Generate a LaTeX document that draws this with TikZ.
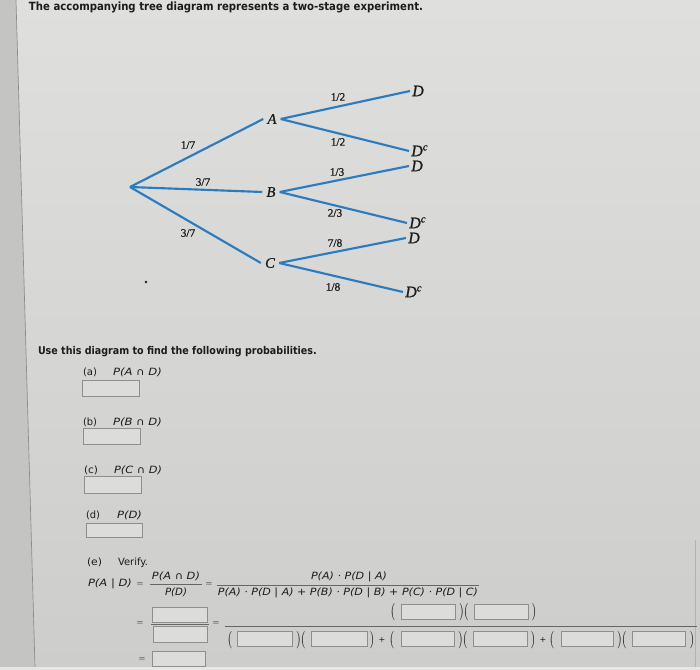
\documentclass[tikz,border=0pt]{standalone}
\usepackage{fontspec}
\setmainfont{DejaVu Sans}
\newfontfamily\treefont[FakeBold=0.8]{Liberation Serif}
\usepackage{graphicx}
\definecolor{treeblue}{HTML}{2C7BBE}
\definecolor{bgtop}{HTML}{DFDFDD}
\definecolor{bgbot}{HTML}{CDCDCB}
\definecolor{stripc}{HTML}{C4C4C2}
\definecolor{boxline}{HTML}{8E8E8E}
\definecolor{boxfill}{HTML}{DCDCDA}
\definecolor{ink}{HTML}{1C1C1C}
\definecolor{eqgray}{HTML}{666666}
\definecolor{bandc}{HTML}{E6E6E4}
\newcommand\fw[2]{\resizebox{#1}{\height}{#2}}
\newcommand\tallp[1]{\scalebox{1}[1.45]{\fontsize{9.5}{9.5}\selectfont$#1$}}
\newcommand\dc{D\rlap{\smash{\textsuperscript{c}}}}
\begin{document}
\begin{tikzpicture}[x=0.75pt,y=-0.75pt,
  txt/.style={inner sep=0pt,outer sep=0pt,text=ink,anchor=base west,font=\fontsize{7.5}{9}\selectfont},
  ital/.style={txt,font=\itshape\fontsize{7.5}{9}\selectfont},
  citl/.style={ital,anchor=base},
  bold/.style={txt,font=\bfseries\fontsize{8.5}{10}\selectfont},
  eqs/.style={inner sep=0pt,anchor=base,text=eqgray,font=\fontsize{6.5}{8}\selectfont},
  plus/.style={inner sep=0pt,anchor=center,text=ink,font=\fontsize{6}{7}\selectfont},
  par/.style={inner sep=0pt,anchor=center,text=ink},
  ansbox/.style={draw=boxline,fill=boxfill,line width=0.7pt,inner sep=0pt,minimum width=41.25pt,minimum height=11.25pt},
  barline/.style={draw=black!60,line width=0.7pt},
  branch/.style={draw=treeblue,line width=1.6pt},
  mid/.style={inner xsep=3pt,inner ysep=0pt,text=ink,font=\treefont\itshape\fontsize{11}{11}\selectfont},
  leaf/.style={anchor=west,inner xsep=1.5pt,inner ysep=0pt,text=ink,font=\treefont\itshape\fontsize{12}{12}\selectfont},
  frac/.style={inner sep=0pt,text=ink,font=\treefont\fontsize{8.5}{8.5}\selectfont}]
\useasboundingbox (0,0) rectangle (700,670);
% background
\shade[top color=bgtop,bottom color=bgbot] (0,0) rectangle (700,670);
\fill[stripc] (0,0) -- (16,0) -- (35,667) -- (0,667) -- cycle;
\draw[black!45,line width=0.5pt] (16,0) -- (35,667);
\draw[black!30,line width=0.5pt] (695,540) -- (695,667);
\fill[bandc] (0,667) rectangle (700,670);

% title
\node[bold] (title) at (29,11) {\fw{295.5pt}{The accompanying tree diagram represents a two-stage experiment.}};

% tree
\coordinate (R) at (130,187);
\node[mid] (A) at (272,119) {A};
\node[mid] (B) at (271,192) {B};
\node[mid] (C) at (270,263) {C};
\node[leaf] (D1) at (410,91) {D};
\node[leaf] (D2) at (409,151) {\dc};
\node[leaf] (D3) at (409,166) {D};
\node[leaf] (D4) at (407,223) {\dc};
\node[leaf] (D5) at (406,238) {D};
\node[leaf] (D6) at (403,292) {\dc};
\draw[branch] (R) -- (A.west);
\draw[branch] (R) -- (B.west);
\draw[branch] (R) -- (C.west);
\draw[branch] (A.east) -- (D1.west);
\draw[branch] (A.east) -- (D2.west);
\draw[branch] (B.east) -- (D3.west);
\draw[branch] (B.east) -- (D4.west);
\draw[branch] (C.east) -- (D5.west);
\draw[branch] (C.east) -- (D6.west);
\node[frac] (f1) at (188,145) {1/7};
\node[frac] (f2) at (203,182) {3/7};
\node[frac] (f3) at (188,233) {3/7};
\node[frac] (f4) at (338,97) {1/2};
\node[frac] (f5) at (338,142) {1/2};
\node[frac] (f6) at (337,172) {1/3};
\node[frac] (f7) at (335,213) {2/3};
\node[frac] (f8) at (335,243) {7/8};
\node[frac] (f9) at (333,287) {1/8};
\fill[ink] (146,282) circle[radius=1.3];

% questions
\node[bold,font=\bfseries\fontsize{8}{10}\selectfont] (use) at (38,354) {\fw{209pt}{Use this diagram to find the following probabilities.}};
\node[txt] (la) at (83,376) {\fw{10.5pt}{(a)}};
\node[ital] (pa) at (113,376) {\fw{36.75pt}{P(A ∩ D)}};
\node[ansbox,minimum width=42.75pt,minimum height=12pt] (ba) at (110.5,388) {};
\node[txt] (lb) at (83,425) {\fw{10.5pt}{(b)}};
\node[ital] (pb) at (113,425) {\fw{36.75pt}{P(B ∩ D)}};
\node[ansbox,minimum width=42.75pt,minimum height=12pt] (bb) at (111.5,436) {};
\node[txt] (lc) at (84,473) {\fw{10.5pt}{(c)}};
\node[ital] (pc) at (114,473) {\fw{36pt}{P(C ∩ D)}};
\node[ansbox,minimum width=42.75pt,minimum height=12.75pt] (bc) at (112.5,484.5) {};
\node[txt] (ld) at (86,518) {\fw{10.5pt}{(d)}};
\node[ital] (pd) at (117,518) {\fw{18.75pt}{P(D)}};
\node[ansbox,minimum width=42pt,minimum height=10.5pt] (bd) at (114,530) {};

% (e)
\node[txt] (le) at (87,565) {\fw{11.25pt}{(e)}};
\node[txt] (ver) at (118,565) {\fw{22.5pt}{Verify.}};
\node[ital] (pad) at (88,586) {\fw{33pt}{P(A | D)}};
\node[eqs] (e1) at (140,586) {=};
\node[citl] (n1) at (176,579) {\fw{36pt}{P(A ∩ D)}};
\draw[barline] (150,584) -- (202,584);
\node[citl] (d1) at (176,595) {\fw{16.5pt}{P(D)}};
\node[eqs] (e2) at (209,586) {=};
\node[citl] (n2) at (349,579) {\fw{57pt}{P(A) · P(D | A)}};
\draw[barline] (217,585) -- (479,585);
\node[citl] (d2) at (348,595) {\fw{195pt}{P(A) · P(D | A) + P(B) · P(D | B) + P(C) · P(D | C)}};

% row 2
\node[eqs] (e3) at (140,625) {=};
\node[ansbox] (sn) at (179.5,614.5) {};
\draw[barline] (151,624.5) -- (209,624.5);
\node[ansbox,minimum width=40.5pt,minimum height=12pt] (sd) at (180,634) {};
\node[eqs] (e4) at (216,625) {=};
\draw[barline] (225,626) -- (697,626);
% numerator
\node[par] (np1) at (393,612) {\tallp{(}};
\node[ansbox,minimum width=40.5pt] (nb1) at (428,611.5) {};
\node[par] (np2) at (464,612) {\tallp{)(}};
\node[ansbox,minimum width=40.5pt] (nb2) at (501,611.5) {};
\node[par] (np3) at (534,612) {\tallp{)}};
% denominator
\node[par] (dp1) at (230,640) {\tallp{(}};
\node[ansbox] (db1) at (264.5,638.5) {};
\node[par] (dp2) at (301,640) {\tallp{)(}};
\node[ansbox,minimum width=42pt] (db2) at (339,638.5) {};
\node[par] (dp3) at (372,640) {\tallp{)}};
\node[plus] (pl1) at (382,640) {+};
\node[par] (dp4) at (392,640) {\tallp{(}};
\node[ansbox,minimum width=39.75pt] (db3) at (427.5,638.5) {};
\node[par] (dp5) at (463,640) {\tallp{)(}};
\node[ansbox,minimum width=40.5pt] (db4) at (500,638.5) {};
\node[par] (dp6) at (533,640) {\tallp{)}};
\node[plus] (pl2) at (543,640) {+};
\node[par] (dp7) at (552,640) {\tallp{(}};
\node[ansbox,minimum width=39pt] (db5) at (587,638.5) {};
\node[par] (dp8) at (622,640) {\tallp{)(}};
\node[ansbox,minimum width=39.75pt] (db6) at (658.5,638.5) {};
\node[par] (dp9) at (692,640) {\tallp{)}};
% final
\node[eqs] (e5) at (142,661) {=};
\node[ansbox,minimum width=39.75pt] (fb) at (178.5,658.5) {};
\end{tikzpicture}
\end{document}
